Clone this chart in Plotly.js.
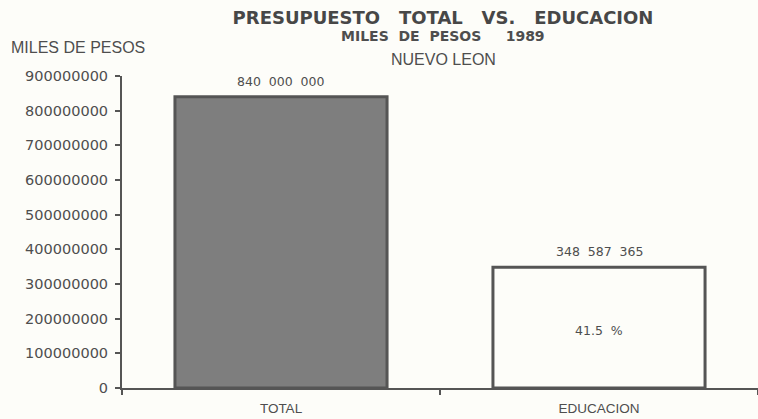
<!DOCTYPE html>
<html>
<head>
<meta charset="utf-8">
<script src="https://cdn.plot.ly/plotly-3.0.1.min.js"></script>
<style>
  html, body { margin: 0; padding: 0; background: #fdfdf9; }
  #chart { width: 758px; height: 419px; }
</style>
</head>
<body>
<div id="chart"></div>
<script>
const categories = ['TOTAL', 'EDUCACION'];
const values = [840000000, 348587365];
const barFills = ['#7e7e7e', '#fdfdf9'];
const yTickVals = [0, 100000000, 200000000, 300000000, 400000000, 500000000, 600000000, 700000000, 800000000, 900000000];

function spaced(v) {
  return String(Math.round(v)).replace(/\B(?=(\d{3})+(?!\d))/g, '  ');
}
const pct = (values[1] / values[0] * 100).toFixed(1) + '  %';

const textColor = '#4e4e4e';
const lineColor = '#555555';

const trace = {
  type: 'bar',
  x: categories,
  y: values,
  width: 0.667,
  marker: { color: barFills, line: { color: lineColor, width: 3 } },
  hoverinfo: 'skip'
};

function px2paperX(px) { return (px - 122) / (758 - 122); }
function px2paperY(py) { return (388 - py) / (388 - 76); }

const annotations = [];
categories.forEach((c, i) => {
  annotations.push({
    x: c, y: values[i], xref: 'x', yref: 'y',
    text: spaced(values[i]), showarrow: false,
    yanchor: 'bottom', yshift: 6,
    font: { family: 'DejaVu Sans', size: 12.5, color: textColor }
  });
});
annotations.push({
  x: categories[1], y: values[1] / 2, xref: 'x', yref: 'y',
  text: pct, showarrow: false, yshift: -3,
  font: { family: 'DejaVu Sans', size: 12.5, color: textColor }
});
annotations.push({
  x: px2paperX(443), y: px2paperY(36), xref: 'paper', yref: 'paper',
  xanchor: 'center', yanchor: 'middle',
  text: '<b>MILES  DE  PESOS     1989</b>', showarrow: false,
  font: { family: 'DejaVu Sans', size: 14, color: textColor }
});
annotations.push({
  x: px2paperX(443), y: px2paperY(60), xref: 'paper', yref: 'paper',
  xanchor: 'center', yanchor: 'middle',
  text: 'NUEVO LEON', showarrow: false,
  font: { family: 'Liberation Sans', size: 16, color: textColor }
});
annotations.push({
  x: px2paperX(78), y: px2paperY(47), xref: 'paper', yref: 'paper',
  xanchor: 'center', yanchor: 'middle',
  text: 'MILES DE PESOS', showarrow: false,
  font: { family: 'Liberation Sans', size: 16, color: textColor }
});

const layout = {
  width: 758, height: 419,
  paper_bgcolor: '#fdfdf9', plot_bgcolor: '#fdfdf9',
  margin: { l: 122, r: 0, t: 76, b: 31, pad: 0 },
  showlegend: false,
  title: {
    text: '<b>PRESUPUESTO   TOTAL   VS.   EDUCACION</b>',
    x: (443 / 758), xanchor: 'center', y: 1 - 18 / 419, yanchor: 'middle',
    font: { family: 'DejaVu Sans', size: 18, color: '#474747' }
  },
  xaxis: {
    type: 'category', range: [-0.5, 1.5],
    showline: true, linecolor: lineColor, linewidth: 2,
    ticks: 'outside', tickson: 'boundaries', ticklen: 5, tickwidth: 2, tickcolor: lineColor,
    ticklabelstandoff: 7,
    tickfont: { family: 'Liberation Sans Narrow, Liberation Sans', size: 13.5, color: textColor },
    showgrid: false, zeroline: false, fixedrange: true
  },
  yaxis: {
    range: [0, 900000000],
    tickvals: yTickVals, ticktext: yTickVals.map(v => String(v)),
    showline: true, linecolor: lineColor, linewidth: 2,
    ticks: 'outside', ticklen: 5, tickwidth: 2, tickcolor: lineColor,
    ticklabelstandoff: 4,
    tickfont: { family: 'DejaVu Sans', size: 14.5, color: textColor },
    showgrid: false, zeroline: false, fixedrange: true
  },
  annotations: annotations
};

Plotly.newPlot('chart', [trace], layout, { displayModeBar: false, staticPlot: true });
</script>
</body>
</html>
